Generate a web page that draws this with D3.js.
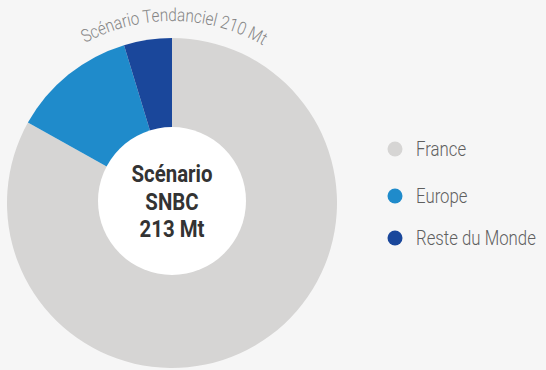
<!DOCTYPE html>
<html>
<head>
<meta charset="utf-8">
<script src="https://cdn.jsdelivr.net/npm/d3@7"></script>
<style>
  html, body { margin: 0; padding: 0; background: #f6f6f6; }
  svg { display: block; }
  text { font-family: Roboto, "Noto Sans", sans-serif; }
</style>
</head>
<body>
<svg id="chart" width="546" height="370"></svg>
<script>
// Emissions by origin, SNBC scenario (Mt)
const categories = ["France", "Europe", "Reste du Monde"];
const values = [177, 26, 10];
const colors = ["#d6d5d4", "#1f8bcb", "#1a479b"];
const centerLines = ["Scénario", "SNBC", "213 Mt"];
const arcLabel = "Scénario Tendanciel 210 Mt";

const svg = d3.select("#chart");
const cx = 172, cy = 203;
const outerR = 165, innerR = 74;
const narrow = 0.85; // condensed look for the Roboto glyphs

const g = svg.append("g").attr("transform", `translate(${cx},${cy})`);

const pie = d3.pie().sort(null).value(d => d.v);
const arc = d3.arc().innerRadius(0).outerRadius(outerR);
const data = categories.map((c, i) => ({ c, v: values[i], col: colors[i] }));

g.selectAll("path.slice")
  .data(pie(data))
  .join("path")
  .attr("class", "slice")
  .attr("d", arc)
  .attr("fill", d => d.data.col);

// white hole in the middle
g.append("circle").attr("cx", 0).attr("cy", -2).attr("r", innerR).attr("fill", "#ffffff");

g.selectAll("text.center")
  .data(centerLines)
  .join("text")
  .attr("class", "center")
  .attr("transform", (d, i) => `translate(0,${-21 + i * 27.5}) scale(${narrow},1)`)
  .attr("text-anchor", "middle")
  .attr("font-size", 24)
  .attr("font-weight", "bold")
  .attr("fill", "#333333")
  .text(d => d);

// curved label over the top of the ring
const labelR = 182;
const a0 = -Math.PI * 0.4, a1 = Math.PI * 0.4;
const p0 = d3.pointRadial(a0, labelR), p1 = d3.pointRadial(a1, labelR);
g.append("path")
  .attr("id", "labelPath")
  .attr("d", `M${p0}A${labelR},${labelR} 0 0,1 ${p1}`)
  .attr("fill", "none");
g.append("text")
  .attr("font-size", 18)
  .attr("font-weight", 300)
  .attr("fill", "#858585")
  .append("textPath")
  .attr("href", "#labelPath")
  .attr("startOffset", "50.5%")
  .attr("text-anchor", "middle")
  .attr("textLength", 186)
  .attr("lengthAdjust", "spacingAndGlyphs")
  .text(arcLabel);

// legend
const legend = svg.append("g").attr("transform", "translate(395,149)");
const items = legend.selectAll("g")
  .data(data)
  .join("g")
  .attr("transform", (d, i) => `translate(0,${[0, 47, 89][i]})`);
items.append("circle").attr("r", 7.5).attr("fill", d => d.col);
items.append("text")
  .attr("transform", `translate(21,6.5) scale(0.84,1)`)
  .attr("font-size", 20)
  .attr("font-weight", 300)
  .attr("fill", "#5f5f5f")
  .text(d => d.c);
</script>
</body>
</html>
